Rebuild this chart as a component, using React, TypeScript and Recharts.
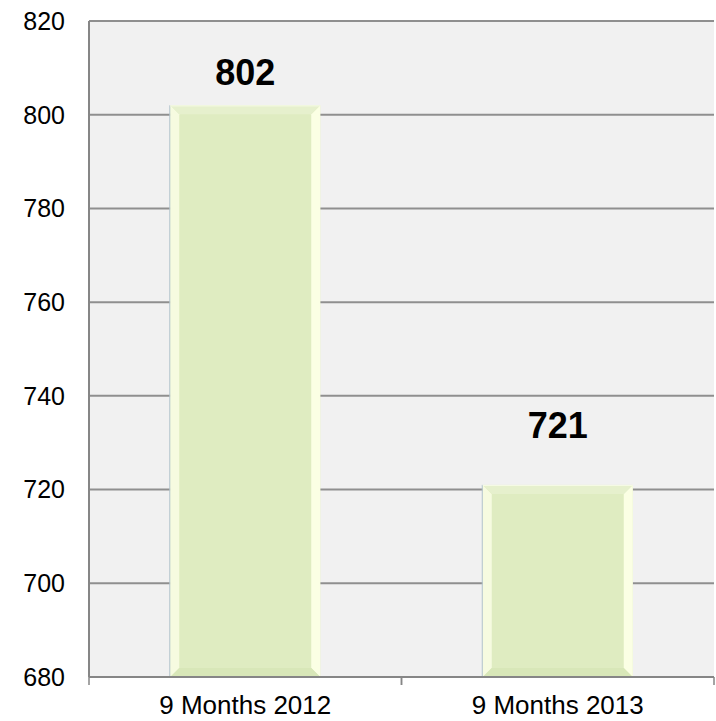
import React from "react";
import { Bar, BarChart, CartesianGrid, LabelList, XAxis, YAxis } from "recharts";

// ─── Data ────────────────────────────────────────────────────

const categories = ["9 Months 2012", "9 Months 2013"];
const values = [802, 721];
const yTicks = [680, 700, 720, 740, 760, 780, 800, 820];

const data = categories.map((name, i) => ({ name, value: values[i] }));

// label distance above each bar (the source placed them unevenly)
const labelGaps = [20, 47];

const FONT = '"Liberation Sans", Arial, sans-serif';

// ─── Bevelled bar ────────────────────────────────────────────

function BevelBar(props: any) {
  const { x, y, width: w, height: h } = props;
  if (!h || h <= 0) return null;
  const b = 9;
  return (
    <g>
      <rect x={x} y={y} width={w} height={h} fill="#dfecc1" />
      <polygon
        points={`${x},${y} ${x + b},${y + b} ${x + b},${y + h - b} ${x},${y + h}`}
        fill="#f6fbe0"
      />
      <polygon
        points={`${x + w},${y} ${x + w - b},${y + b} ${x + w - b},${y + h - b} ${x + w},${y + h}`}
        fill="#fbffe4"
      />
      <polygon
        points={`${x},${y} ${x + w},${y} ${x + w - b},${y + b} ${x + b},${y + b}`}
        fill="#e6f0cd"
      />
      <polygon
        points={`${x},${y + h} ${x + w},${y + h} ${x + w - b},${y + h - b} ${x + b},${y + h - b}`}
        fill="#d8e7b8"
      />
      <line x1={x - 0.5} y1={y} x2={x - 0.5} y2={y + h} stroke="#b3c4cc" strokeWidth={1} />
      <line x1={x} y1={y + 0.5} x2={x + w} y2={y + 0.5} stroke="#f7fbe8" strokeWidth={1} />
    </g>
  );
}

// ─── Value label ─────────────────────────────────────────────

function ValueLabel(props: any) {
  const { x, y, width, value, index } = props;
  return (
    <text
      x={x + width / 2}
      y={y - labelGaps[index]}
      textAnchor="middle"
      fontFamily={FONT}
      fontSize={36}
      fontWeight="bold"
      fill="#000"
    >
      {value}
    </text>
  );
}

// ─── X tick: category name + marks on the band edges ─────────

function CategoryTick(props: any) {
  const { x, y, payload, width, visibleTicksCount } = props;
  const half =
    payload && payload.offset ? payload.offset : width / (visibleTicksCount || 1) / 2;
  return (
    <g>
      <line x1={x - half} y1={y} x2={x - half} y2={y + 8} stroke="#868686" strokeWidth={1.5} />
      <line x1={x + half} y1={y} x2={x + half} y2={y + 8} stroke="#868686" strokeWidth={1.5} />
      <text
        x={x}
        y={y + 19}
        dy="0.71em"
        textAnchor="middle"
        fontFamily={FONT}
        fontSize={26}
        fill="#000"
      >
        {payload.value}
      </text>
    </g>
  );
}

export default function App() {
  return (
    <div style={{ position: "absolute", left: 0, top: 0, background: "#fff" }}>
      <BarChart
        width={716}
        height={721}
        data={data}
        margin={{ top: 21, right: 2, left: 0, bottom: 0 }}
        barCategoryGap="26%"
      >
        <CartesianGrid
          vertical={false}
          fill="#f1f1f1"
          stroke="#8f8f8f"
          strokeWidth={2}
          horizontalValues={yTicks}
        />
        <XAxis
          dataKey="name"
          interval={0}
          height={44}
          tickSize={0}
          tickMargin={0}
          tickLine={false}
          axisLine={{ stroke: "#868686", strokeWidth: 2 }}
          tick={<CategoryTick />}
        />
        <YAxis
          width={89}
          domain={[680, 820]}
          ticks={yTicks}
          interval={0}
          tickSize={0}
          tickMargin={24}
          tickLine={false}
          axisLine={{ stroke: "#868686", strokeWidth: 2 }}
          tick={{ fill: "#000", fontSize: 25, fontFamily: FONT }}
        />
        <Bar dataKey="value" shape={<BevelBar />} isAnimationActive={false}>
          <LabelList dataKey="value" content={<ValueLabel />} />
        </Bar>
      </BarChart>
    </div>
  );
}
